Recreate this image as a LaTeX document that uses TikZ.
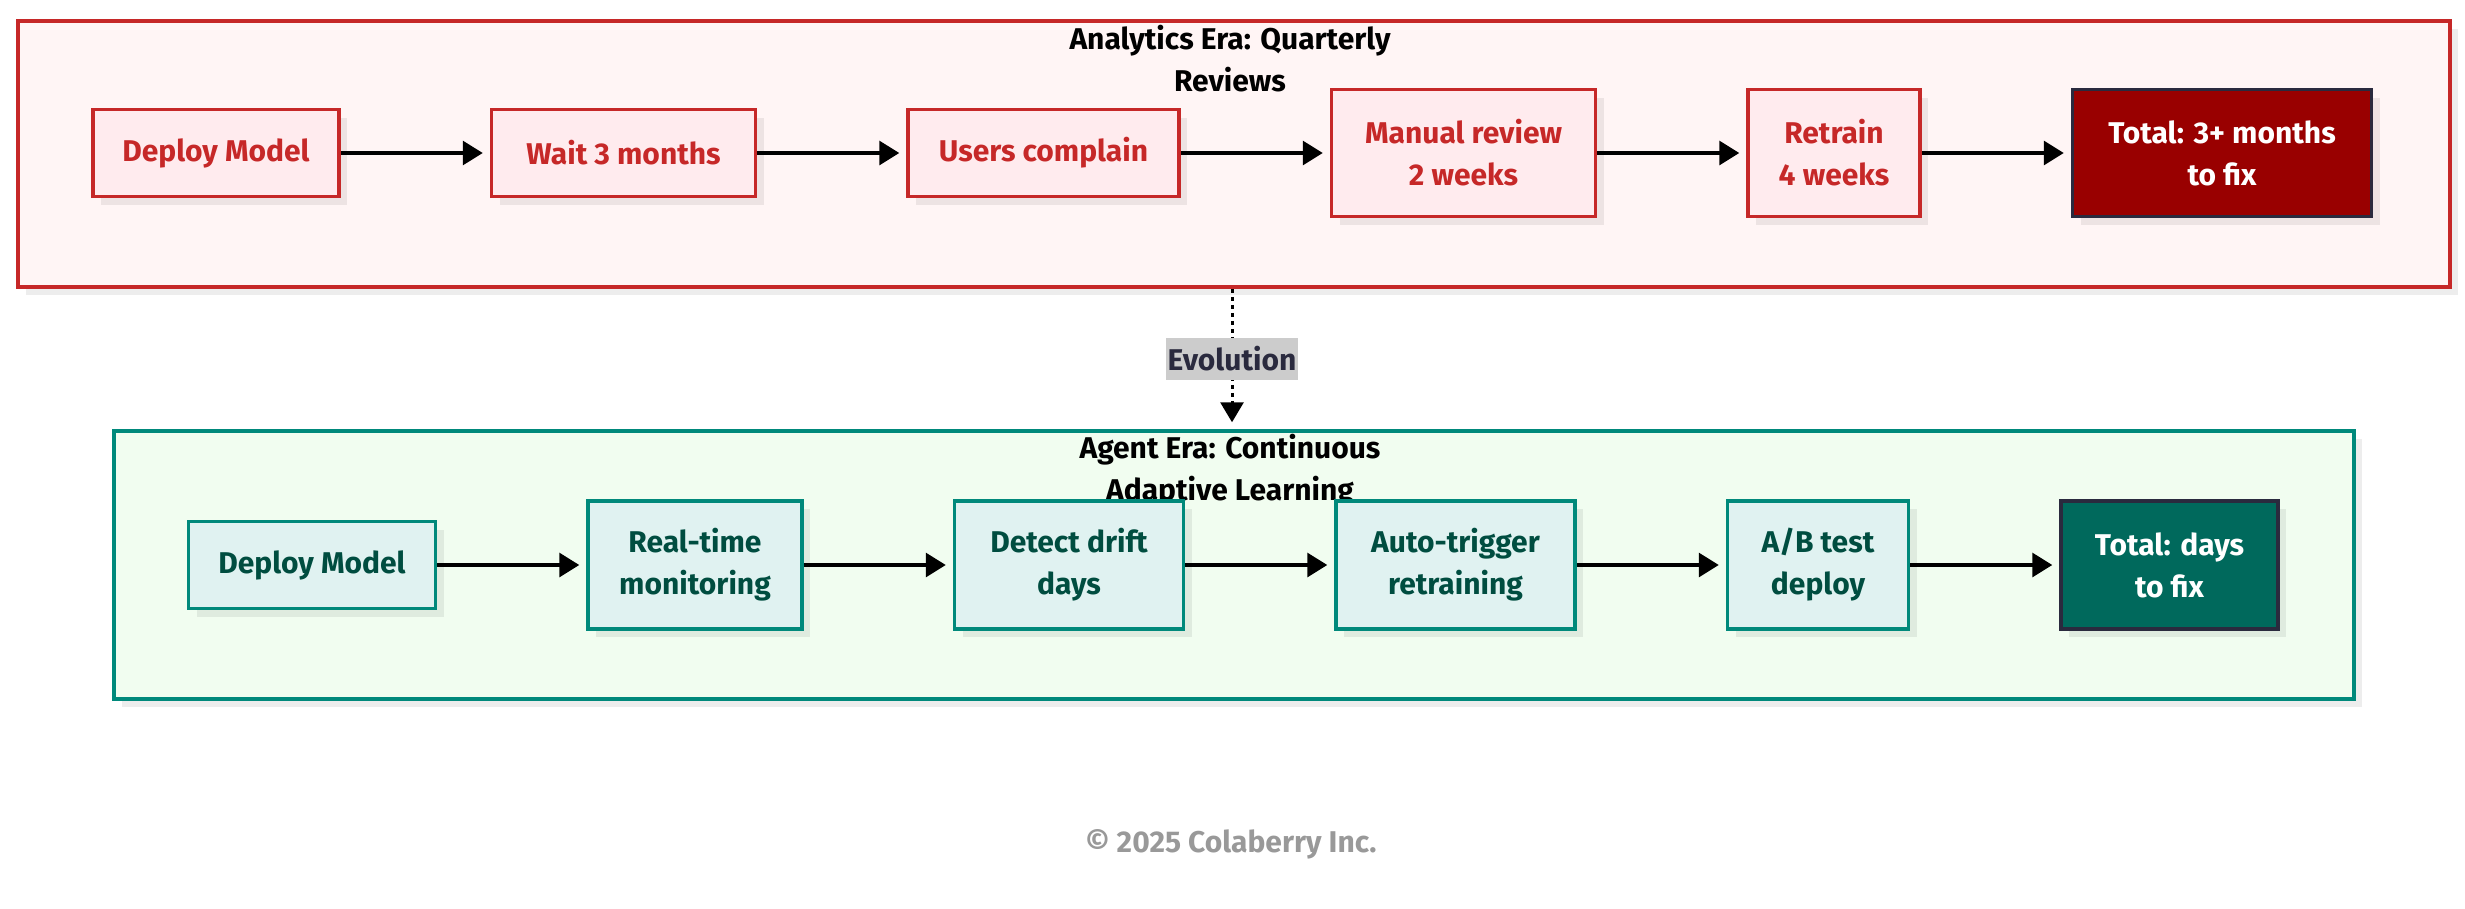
\documentclass[tikz,border=0pt]{standalone}
\usepackage{fontspec}
\setmainfont{Fira Sans}
\usetikzlibrary{positioning,arrows.meta,shadows}
\definecolor{oldred}{HTML}{C62828}
\definecolor{oldfill}{HTML}{FFEBEE}
\definecolor{oldbg}{HTML}{FFF5F5}
\definecolor{olddark}{HTML}{990000}
\definecolor{newteal}{HTML}{00897B}
\definecolor{newfill}{HTML}{E0F2F1}
\definecolor{newbg}{HTML}{F1FDF0}
\definecolor{newtext}{HTML}{004D40}
\definecolor{newdark}{HTML}{00695C}
\definecolor{navy}{HTML}{2A2A3E}
\definecolor{evogray}{HTML}{CCCCCC}
\newcommand{\lblfont}{\fontsize{30}{42}\selectfont\bfseries}
\tikzset{dropsh/.style={drop shadow={shadow xshift=8pt, shadow yshift=-8pt, fill=black, opacity=0.07}}}
\tikzset{era/.style={rectangle, line width=3.5pt, dropsh}}
\tikzset{oldera/.style={era, draw=oldred, fill=oldbg, minimum width=2432pt, minimum height=266pt}}
\tikzset{newera/.style={era, draw=newteal, fill=newbg, minimum width=2240pt, minimum height=268pt}}
\tikzset{title/.style={align=center, font=\lblfont, text=black}}
\tikzset{oldstep/.style={rectangle, draw=oldred, fill=oldfill, text=oldred, line width=3.5pt, align=center,
 font=\lblfont, minimum height=87pt, inner sep=6pt, dropsh}}
\tikzset{oldtotal/.style={oldstep, draw=navy, fill=olddark, text=white}}
\tikzset{newstep/.style={rectangle, draw=newteal, fill=newfill, text=newtext, line width=3.5pt, align=center,
 font=\lblfont, minimum height=87pt, inner sep=6pt, dropsh}}
\tikzset{newtotal/.style={newstep, draw=navy, fill=newdark, text=white}}
\tikzset{line/.style={draw, line width=3.2pt, -{Triangle[length=20pt,width=24pt]}, shorten >=7pt}}
\tikzset{evo/.style={draw, line width=3pt, dash pattern=on 4pt off 4pt, -{Triangle[length=20pt,width=23pt]}, shorten >=7pt}}

\begin{document}
\begin{tikzpicture}[x=1pt, y=-1pt, node distance=149pt]
        \useasboundingbox (0,0) rectangle (2465,908);
        % the two eras
        \node[oldera] (old) at (1234,154) {};
        \node[newera] (new) at (1234,565) {};
        \node[title] (oldtitle) at (1230,59) {Analytics Era: Quarterly\\Reviews};
        \node[title] (newtitle) at (1230,471) {Agent Era: Continuous\\Adaptive Learning};

        % analytics era
        \node[oldstep, minimum width=246pt] (odep) at (216,153) {Deploy Model};
        \node[oldstep, minimum width=264pt, right=of odep] (owait) {Wait 3 months};
        \node[oldstep, minimum width=271pt, right=of owait] (ousr) {Users complain};
        \node[oldstep, minimum width=264pt, minimum height=127pt, right=of ousr] (oman) {Manual review\\2 weeks};
        \node[oldstep, minimum width=172pt, minimum height=127pt, right=of oman] (oret) {Retrain\\4 weeks};
        \node[oldtotal, minimum width=299pt, minimum height=127pt, right=of oret] (otot) {Total: 3+ months\\to fix};

        % agent era
        \node[newstep, minimum width=247pt] (ndep) at (312,565) {Deploy Model};
        \node[newstep, minimum width=214pt, minimum height=128pt, right=of ndep] (nmon) {Real-time\\monitoring};
        \node[newstep, minimum width=229pt, minimum height=128pt, right=of nmon] (ndet) {Detect drift\\days};
        \node[newstep, minimum width=239pt, minimum height=128pt, right=of ndet] (naut) {Auto-trigger\\retraining};
        \node[newstep, minimum width=181pt, minimum height=128pt, right=of naut] (nab) {A/B test\\deploy};
        \node[newtotal, minimum width=217pt, minimum height=128pt, right=of nab] (ntot) {Total: days\\to fix};

        \path[line] (odep) --          (owait);
        \path[line] (owait) --         (ousr);
        \path[line] (ousr) --          (oman);
        \path[line] (oman) --          (oret);
        \path[line] (oret) --          (otot);

        \path[line] (ndep) --          (nmon);
        \path[line] (nmon) --          (ndet);
        \path[line] (ndet) --          (naut);
        \path[line] (naut) --          (nab);
        \path[line] (nab) --           (ntot);

        \path[evo] (old.south -| 1232,0) -- node[fill=evogray, text=navy, font=\lblfont, minimum width=132pt,
          minimum height=42pt, inner sep=0pt] (evol) {Evolution} (new.north -| 1232,0);

        \node[font=\fontsize{30}{34}\selectfont\bfseries, text=black!40] (copy) at (1231,844) {© 2025 Colaberry Inc.};
      \end{tikzpicture}
\end{document}
